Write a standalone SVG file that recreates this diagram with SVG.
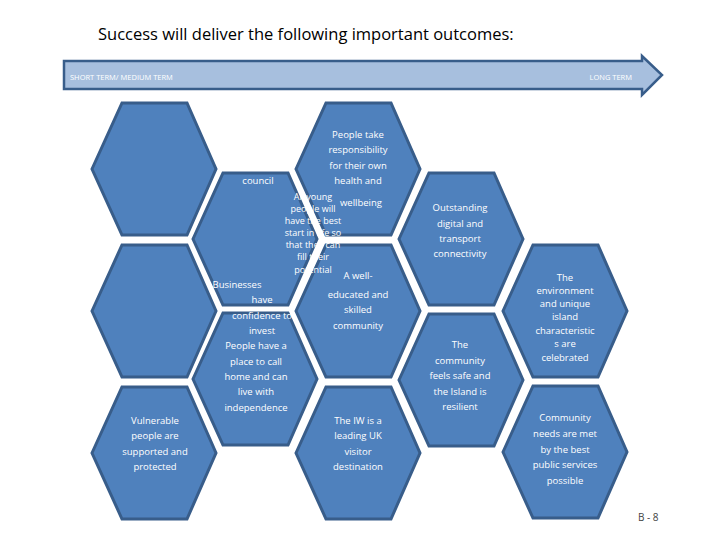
<svg xmlns="http://www.w3.org/2000/svg" width="720" height="540" viewBox="0 0 720 540">
<style>
.hex{fill:#4f81bd;stroke:#385d8a;stroke-width:3}
.t{font-family:"Open Sans","Liberation Sans",sans-serif;font-size:9.5px;fill:#fff;text-anchor:middle}
.s{font-size:9px}
.a{font-family:"Open Sans","Liberation Sans",sans-serif;font-size:7.5px;fill:#fff}
</style>
<defs><polygon id="h" points="0,66 30,0 95,0 124,66 95,132 30,132"/></defs>
<rect width="720" height="540" fill="#fff"/>
<text x="98" y="40" font-family="Open Sans,Liberation Sans,sans-serif" font-size="16.5" fill="#000">Success will deliver the following important  outcomes:</text>
<g id="arrow">
<polygon points="64,61 642,61 642,56 662,75 642,95 642,89 64,89" fill="#a7bfde" stroke="#385d8a" stroke-width="2.5"/>
<text class="a" x="70" y="80">SHORT TERM/ MEDIUM TERM</text>
<text class="a" x="632" y="80" text-anchor="end">LONG TERM</text>
</g>
<g id="hexes">
<use href="#h" class="hex" x="92" y="103"/>
<use href="#h" class="hex" x="92" y="245"/>
<use href="#h" class="hex" x="92" y="387"/>
<use href="#h" class="hex" x="193" y="173"/>
<use href="#h" class="hex" x="193" y="313"/>
<use href="#h" class="hex" x="296" y="103"/>
<use href="#h" class="hex" x="296" y="245"/>
<use href="#h" class="hex" x="296" y="387"/>
<use href="#h" class="hex" x="399" y="173"/>
<use href="#h" class="hex" x="399" y="314"/>
<use href="#h" class="hex" x="503" y="245"/>
<use href="#h" class="hex" x="503" y="386"/>
</g>
<g id="labels">
<text class="t" x="258" y="184">council</text>
<text class="t"><tspan x="358" y="138">People take</tspan><tspan x="358" y="153">responsibility</tspan><tspan x="358" y="169">for their own</tspan><tspan x="358" y="184">health and</tspan><tspan x="361" y="206">wellbeing</tspan></text>
<text class="t s"><tspan x="313" y="200">All young</tspan><tspan x="313" y="212">people will</tspan><tspan x="313" y="224">have the best</tspan><tspan x="313" y="236">start in life so</tspan><tspan x="313" y="248">that they can</tspan><tspan x="313" y="260">fill their</tspan><tspan x="313" y="273">potential</tspan></text>
<text class="t"><tspan x="358" y="279">A well-</tspan><tspan x="358" y="298">educated and</tspan><tspan x="358" y="313">skilled</tspan><tspan x="358" y="329">community</tspan></text>
<text class="t"><tspan x="237" y="288">Businesses</tspan><tspan x="262" y="303">have</tspan><tspan x="262" y="319">confidence to</tspan><tspan x="262" y="334">invest</tspan></text>
<text class="t"><tspan x="256" y="349">People have a</tspan><tspan x="256" y="365">place to call</tspan><tspan x="256" y="380">home and can</tspan><tspan x="256" y="395">live with</tspan><tspan x="256" y="411">independence</tspan></text>
<text class="t"><tspan x="155" y="424">Vulnerable</tspan><tspan x="155" y="439">people are</tspan><tspan x="155" y="455">supported and</tspan><tspan x="155" y="470">protected</tspan></text>
<text class="t"><tspan x="358" y="424">The IW is a</tspan><tspan x="358" y="439">leading UK</tspan><tspan x="358" y="455">visitor</tspan><tspan x="358" y="470">destination</tspan></text>
<text class="t"><tspan x="460" y="211">Outstanding</tspan><tspan x="460" y="227">digital and</tspan><tspan x="460" y="242">transport</tspan><tspan x="460" y="257">connectivity</tspan></text>
<text class="t"><tspan x="460" y="348">The</tspan><tspan x="460" y="364">community</tspan><tspan x="460" y="379">feels safe and</tspan><tspan x="460" y="395">the Island is</tspan><tspan x="460" y="410">resilient</tspan></text>
<text class="t"><tspan x="565" y="281">The</tspan><tspan x="565" y="294">environment</tspan><tspan x="565" y="307">and unique</tspan><tspan x="565" y="320">island</tspan><tspan x="565" y="334">characteristic</tspan><tspan x="565" y="347">s are</tspan><tspan x="565" y="361">celebrated</tspan></text>
<text class="t"><tspan x="565" y="421">Community</tspan><tspan x="565" y="437">needs are met</tspan><tspan x="565" y="453">by the best</tspan><tspan x="565" y="468">public services</tspan><tspan x="565" y="484">possible</tspan></text>
</g>
<text x="638" y="521" font-family="Open Sans,Liberation Sans,sans-serif" font-size="10" fill="#444">B - 8</text>
</svg>
